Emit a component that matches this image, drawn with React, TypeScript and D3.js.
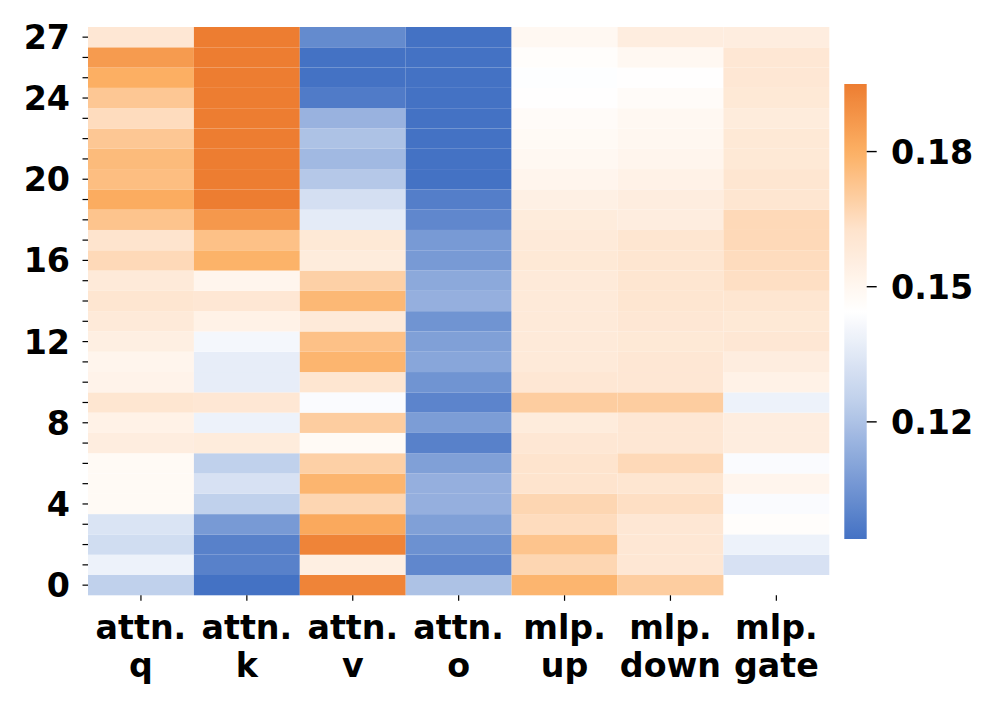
import React from 'react';
import * as d3 from 'd3';

// Modules (columns) and their labels
const columnLabels: string[][] = [
  ['attn.', 'q'],
  ['attn.', 'k'],
  ['attn.', 'v'],
  ['attn.', 'o'],
  ['mlp.', 'up'],
  ['mlp.', 'down'],
  ['mlp.', 'gate'],
];

// Layers 0..27
const layers = d3.range(28);

// Values per module, indexed by layer 0..27
const attnQ = [0.125, 0.139, 0.130, 0.133, 0.148, 0.148, 0.148, 0.156, 0.153, 0.161, 0.152, 0.151, 0.155, 0.158, 0.161, 0.158, 0.166, 0.162, 0.173, 0.181, 0.175, 0.176, 0.172, 0.165, 0.172, 0.180, 0.186, 0.160];
const attnK = [0.094, 0.099, 0.099, 0.107, 0.125, 0.132, 0.125, 0.157, 0.139, 0.160, 0.137, 0.137, 0.141, 0.153, 0.160, 0.151, 0.179, 0.174, 0.187, 0.195, 0.195, 0.195, 0.195, 0.195, 0.195, 0.195, 0.195, 0.195];
const attnV = [0.193, 0.155, 0.193, 0.182, 0.167, 0.178, 0.169, 0.148, 0.170, 0.143, 0.161, 0.178, 0.174, 0.158, 0.177, 0.169, 0.157, 0.159, 0.136, 0.131, 0.122, 0.117, 0.120, 0.115, 0.097, 0.094, 0.094, 0.102];
const attnO = [0.120, 0.101, 0.104, 0.109, 0.114, 0.114, 0.109, 0.099, 0.108, 0.100, 0.105, 0.111, 0.109, 0.105, 0.114, 0.112, 0.107, 0.107, 0.101, 0.098, 0.094, 0.094, 0.094, 0.094, 0.094, 0.094, 0.094, 0.094];
const mlpUp = [0.178, 0.167, 0.173, 0.165, 0.167, 0.162, 0.162, 0.160, 0.157, 0.170, 0.160, 0.158, 0.158, 0.158, 0.158, 0.158, 0.159, 0.158, 0.157, 0.154, 0.151, 0.149, 0.148, 0.147, 0.145, 0.144, 0.146, 0.149];
const mlpDown = [0.170, 0.160, 0.160, 0.160, 0.164, 0.161, 0.166, 0.160, 0.160, 0.170, 0.160, 0.160, 0.159, 0.160, 0.161, 0.161, 0.161, 0.161, 0.156, 0.156, 0.153, 0.151, 0.150, 0.149, 0.147, 0.145, 0.149, 0.156];
const mlpGate: (number | null)[] = [null, 0.132, 0.139, 0.146, 0.143, 0.151, 0.143, 0.156, 0.156, 0.139, 0.153, 0.156, 0.160, 0.159, 0.161, 0.164, 0.165, 0.166, 0.166, 0.161, 0.161, 0.159, 0.159, 0.157, 0.159, 0.160, 0.160, 0.156];

const seriesList: (number | null)[][] = [attnQ, attnK, attnV, attnO, mlpUp, mlpDown, mlpGate];

// Tick labels
const yTickLabels = [0, 4, 8, 12, 16, 20, 24, 27];
const cbarTicks = [0.12, 0.15, 0.18];

const FONT = '"DejaVu Sans", sans-serif';
const FS = 33.3;

export default function App() {
  const W = 998;
  const H = 707;
  const left = 88;
  const right = 829.3;
  const top = 27;
  const bottom = 595.3;

  const x = d3.scaleBand<number>().domain(d3.range(columnLabels.length)).range([left, right]);
  const y = d3.scaleBand<number>().domain([...layers].reverse()).range([top, bottom]);

  const allVals = seriesList.flat().filter((v): v is number => v != null);
  const [vmin, vmax] = d3.extent(allVals) as [number, number];

  const tScale = d3.scaleLinear().domain([vmin, vmax]).range([0, 1]).clamp(true);
  const cmap = d3
    .scaleLinear<string>()
    .domain([0, 0.3, 0.5, 0.68, 0.85, 1])
    .range(['#4472C4', '#BECFEB', '#FFFFFF', '#FEE3CC', '#FCB064', '#ED7D31'])
    .interpolate(d3.interpolateRgb)
    .clamp(true);
  const color = (v: number) => cmap(tScale(v));

  const cbX = 844.3;
  const cbW = 22.4;
  const cbY = d3.scaleLinear().domain([vmin, vmax]).range([539, 84]);
  const gradStops = d3.range(0, 1.0001, 0.02);

  const cells: { c: number; l: number; v: number }[] = [];
  seriesList.forEach((arr, c) => {
    arr.forEach((v, l) => {
      if (v != null) cells.push({ c, l, v });
    });
  });

  return (
    <svg
      width={W}
      height={H}
      style={{ position: 'absolute', left: 0, top: 0, background: '#fff' }}
      fontFamily={FONT}
      fontWeight="bold"
    >
      <defs>
        <linearGradient id="cbar" x1="0" y1="1" x2="0" y2="0">
          {gradStops.map((t) => (
            <stop key={t} offset={`${t * 100}%`} stopColor={cmap(t)} />
          ))}
        </linearGradient>
      </defs>
      <rect x={0} y={0} width={W} height={H} fill="#fff" />

      {/* cells */}
      <g>
        {cells.map(({ c, l, v }) => (
          <rect
            key={`${c}-${l}`}
            x={x(c)}
            y={y(l)}
            width={x.bandwidth()}
            height={y.bandwidth()}
            fill={color(v)}
          />
        ))}
      </g>

      {/* y axis ticks */}
      <g>
        {layers.map((l) => (
          <line
            key={l}
            x1={left - 5.5}
            x2={left}
            y1={(y(l) as number) + y.bandwidth() / 2}
            y2={(y(l) as number) + y.bandwidth() / 2}
            stroke="#000"
            strokeWidth={1.2}
          />
        ))}
        {yTickLabels.map((l) => (
          <text
            key={l}
            x={70}
            y={(y(l) as number) + y.bandwidth() / 2}
            dy="0.36em"
            textAnchor="end"
            fontSize={FS}
            fill="#000"
          >
            {l}
          </text>
        ))}
      </g>

      {/* x axis ticks */}
      <g>
        {columnLabels.map((lab, c) => {
          const cx = (x(c) as number) + x.bandwidth() / 2;
          return (
            <g key={c}>
              <line x1={cx} x2={cx} y1={bottom} y2={bottom + 5.5} stroke="#000" strokeWidth={1.2} />
              <text x={cx} y={638.5} textAnchor="middle" fontSize={FS} fill="#000">
                {lab[0]}
              </text>
              <text x={cx} y={676.5} textAnchor="middle" fontSize={FS} fill="#000">
                {lab[1]}
              </text>
            </g>
          );
        })}
      </g>

      {/* colorbar */}
      <g>
        <rect x={cbX} y={cbY(vmax)} width={cbW} height={cbY(vmin) - cbY(vmax)} fill="url(#cbar)" />
        {cbarTicks.map((t) => (
          <g key={t}>
            <line x1={cbX + cbW} x2={cbX + cbW + 10} y1={cbY(t)} y2={cbY(t)} stroke="#000" strokeWidth={1.4} />
            <text x={891} y={cbY(t)} dy="0.36em" fontSize={FS} fill="#000">
              {d3.format('.2f')(t)}
            </text>
          </g>
        ))}
      </g>
    </svg>
  );
}
